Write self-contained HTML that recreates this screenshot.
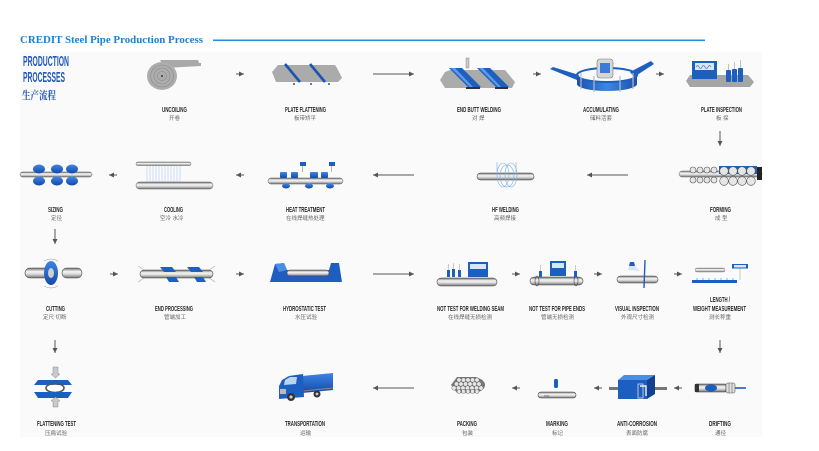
<!DOCTYPE html>
<html><head><meta charset="utf-8"><style>
html,body{margin:0;padding:0;background:#fff;}
svg{display:block;}
.l{font-family:"Liberation Sans",sans-serif;font-weight:bold;font-size:7.5px;fill:#2a2a2a;}
.c{font-family:"Liberation Sans","Noto Sans CJK SC",sans-serif;font-size:5.5px;fill:#666;}
</style></head><body>
<svg width="819" height="451" viewBox="0 0 819 451" xmlns="http://www.w3.org/2000/svg">
<defs>
<linearGradient id="pg" x1="0" y1="0" x2="0" y2="1">
<stop offset="0" stop-color="#6a6a6a"/><stop offset=".35" stop-color="#f4f4f4"/><stop offset=".6" stop-color="#dcdcdc"/><stop offset="1" stop-color="#707070"/>
</linearGradient>
<linearGradient id="bg" x1="0" y1="0" x2="0" y2="1">
<stop offset="0" stop-color="#3d86e6"/><stop offset="1" stop-color="#1548a8"/>
</linearGradient>
<linearGradient id="bh" x1="0" y1="0" x2="1" y2="0">
<stop offset="0" stop-color="#1a50b0"/><stop offset=".5" stop-color="#3b87e4"/><stop offset="1" stop-color="#1a50b0"/>
</linearGradient>
<marker id="ah" markerWidth="6" markerHeight="6" refX="5" refY="3" orient="auto" markerUnits="userSpaceOnUse">
<path d="M0,0.5 L5,3 L0,5.5 Z" fill="#555"/>
</marker>
</defs>

<!-- panel -->
<rect x="20" y="52" width="742" height="385" fill="#fafafa"/>

<!-- title -->
<text x="20" y="43" font-family="Liberation Serif,serif" font-weight="bold" font-size="10.5" fill="#1f7fd2" textLength="183" lengthAdjust="spacingAndGlyphs">CREDIT Steel Pipe Production Process</text>
<rect x="213" y="39.5" width="492" height="1.6" fill="#2a8ae0"/>

<text x="23" y="66" font-family="Liberation Sans,sans-serif" font-weight="bold" font-size="14.5" fill="#2158b8" textLength="46" lengthAdjust="spacingAndGlyphs">PRODUCTION</text>
<text x="23" y="82" font-family="Liberation Sans,sans-serif" font-weight="bold" font-size="14.5" fill="#2158b8" textLength="42" lengthAdjust="spacingAndGlyphs">PROCESSES</text>
<text x="22" y="99" font-family="Liberation Serif,'Noto Serif CJK SC',serif" font-weight="bold" font-size="11" fill="#2158b8" textLength="34" lengthAdjust="spacingAndGlyphs">生产流程</text>

<!-- ============ ROW 1 ============ -->
<!-- uncoiling -->
<polygon points="160,60 198,60 199,63 201,63 201,66 165,68" fill="#a8a8a8"/>
<ellipse cx="162" cy="76" rx="15" ry="14" fill="#adadad"/>
<ellipse cx="162" cy="76" rx="11.5" ry="11" fill="none" stroke="#8a8a8a" stroke-width=".6"/>
<ellipse cx="162" cy="76" rx="8" ry="8" fill="none" stroke="#8a8a8a" stroke-width=".6"/>
<ellipse cx="162" cy="76" rx="4.5" ry="4.5" fill="none" stroke="#8a8a8a" stroke-width=".6"/>
<circle cx="162" cy="76" r="1" fill="#333"/>

<!-- plate flattening -->
<polygon points="272,72 278,65 335,65 337,68 342,78 338,82 276,82" fill="#ababab"/>
<line x1="285" y1="64" x2="300" y2="82" stroke="#1a55b0" stroke-width="2.6"/>
<line x1="310" y1="64" x2="325" y2="82" stroke="#1a55b0" stroke-width="2.6"/>
<circle cx="294" cy="84" r="1" fill="#1a55b0"/><circle cx="311" cy="84" r="1" fill="#1a55b0"/><circle cx="329" cy="84" r="1" fill="#1a55b0"/>

<!-- end butt welding -->
<polygon points="440,80 445,72 450,70 505,70 515,82 512,88 445,88" fill="#ababab"/>
<rect x="466" y="87" width="14" height="2" fill="#333"/><rect x="495" y="87" width="13" height="2" fill="#333"/>
<polygon points="449,68 462,68 481,87 468,87" fill="#1e5fc0"/>
<polygon points="451,68 455,68 473,87 470,87" fill="#5a9ae8"/>
<polygon points="477,68 490,68 509,87 496,87" fill="#1e5fc0"/>
<polygon points="479,68 483,68 501,87 498,87" fill="#5a9ae8"/>
<rect x="466" y="58" width="3" height="10" fill="#c8c8c8" stroke="#777" stroke-width=".4"/>

<!-- accumulating -->
<polygon points="550,69 553,67 579,75 577,80" fill="#1e5fc0"/>
<polygon points="630,72 651,61 654,64 634,77" fill="#1e5fc0"/>
<path d="M577 75 A30 7 0 0 0 637 75 L637 84 A30 7 0 0 1 577 84 Z" fill="url(#bh)"/>
<ellipse cx="607" cy="75" rx="30" ry="7" fill="none" stroke="#1e5fc0" stroke-width="2"/>
<g stroke="#bbb" stroke-width="1.2"><line x1="581" y1="73" x2="581" y2="89"/><line x1="594" y1="76" x2="594" y2="92"/><line x1="620" y1="76" x2="620" y2="92"/><line x1="633" y1="73" x2="633" y2="89"/></g>
<rect x="597" y="59" width="16" height="19" rx="3" fill="#d6d6d6" stroke="#777" stroke-width=".6"/>
<rect x="600" y="63" width="10" height="10" fill="#3a7bd8"/>

<!-- plate inspection -->
<polygon points="686,81 690,75 748,75 754,82 750,87 690,87" fill="#a5a5a5"/>
<rect x="692" y="61" width="25" height="18" fill="#1c5fbf"/>
<rect x="695" y="63" width="19" height="7" fill="#d8e6f7"/>
<path d="M696 67 q1.5 -3 3 0 t3 0 t3 0 t3 0 t3 0" fill="none" stroke="#1c5fbf" stroke-width=".6"/>
<rect x="726" y="70" width="5" height="12" rx="1" fill="#1c5fbf"/><rect x="732" y="69" width="5" height="13" rx="1" fill="#1c5fbf"/><rect x="738" y="68" width="5" height="14" rx="1" fill="#1c5fbf"/>
<g stroke="#999" stroke-width=".6"><line x1="728.5" y1="64" x2="728.5" y2="70"/><line x1="734.5" y1="62" x2="734.5" y2="69"/><line x1="740.5" y1="60" x2="740.5" y2="68"/></g>

<!-- row1 arrows -->
<g stroke="#555" stroke-width="1" fill="none" marker-end="url(#ah)">
<line x1="236" y1="74" x2="244" y2="74"/>
<line x1="373" y1="74" x2="414" y2="74"/>
<line x1="533" y1="74" x2="541" y2="74"/>
<line x1="656" y1="74" x2="664" y2="74"/>
<line x1="720" y1="131" x2="720" y2="146"/>
</g>

<text class="l" x="162" y="112" textLength="25" lengthAdjust="spacingAndGlyphs">UNCOILING</text>
<text class="c" x="169" y="120">开卷</text>
<text class="l" x="285" y="112" textLength="41" lengthAdjust="spacingAndGlyphs">PLATE FLATTENING</text>
<text class="c" x="294" y="120">板带矫平</text>
<text class="l" x="457" y="112" textLength="44" lengthAdjust="spacingAndGlyphs">END BUTT WELDING</text>
<text class="c" x="472" y="120">对 焊</text>
<text class="l" x="583" y="112" textLength="36" lengthAdjust="spacingAndGlyphs">ACCUMULATING</text>
<text class="c" x="590" y="120">储料活套</text>
<text class="l" x="701" y="112" textLength="41" lengthAdjust="spacingAndGlyphs">PLATE INSPECTION</text>
<text class="c" x="716" y="120">板 探</text>

<!-- ============ ROW 2 ============ -->
<!-- sizing -->
<rect x="20" y="172" width="72" height="5" rx="2.5" fill="url(#pg)" stroke="#555" stroke-width=".5"/>
<g fill="url(#bg)">
<ellipse cx="39" cy="169" rx="6" ry="4.5"/><ellipse cx="39" cy="181" rx="6" ry="4.5"/>
<ellipse cx="57" cy="169" rx="6" ry="4.5"/><ellipse cx="57" cy="181" rx="6" ry="4.5"/>
<ellipse cx="72" cy="169" rx="6" ry="4.5"/><ellipse cx="72" cy="181" rx="6" ry="4.5"/>
</g>

<!-- cooling -->
<rect x="136" y="162" width="55" height="3.5" rx="1.7" fill="url(#pg)" stroke="#666" stroke-width=".5"/>
<g stroke="#a9c9ec" stroke-width=".6">
<line x1="147" y1="166" x2="147" y2="182"/><line x1="150" y1="166" x2="150" y2="182"/><line x1="153" y1="166" x2="153" y2="182"/><line x1="156" y1="166" x2="156" y2="182"/><line x1="159" y1="166" x2="159" y2="182"/><line x1="162" y1="166" x2="162" y2="182"/><line x1="165" y1="166" x2="165" y2="182"/><line x1="168" y1="166" x2="168" y2="182"/><line x1="171" y1="166" x2="171" y2="182"/><line x1="174" y1="166" x2="174" y2="182"/><line x1="177" y1="166" x2="177" y2="182"/><line x1="180" y1="166" x2="180" y2="182"/>
</g>
<rect x="136" y="182" width="77" height="7" rx="3.5" fill="url(#pg)" stroke="#555" stroke-width=".5"/>

<!-- heat treatment -->
<g stroke="#888" stroke-width=".6" fill="none"><path d="M302.5 166 V172"/><path d="M331.5 166 V172"/></g>
<rect x="300" y="162" width="6" height="4" fill="#1c5fbf"/><rect x="329" y="162" width="6" height="4" fill="#1c5fbf"/>
<rect x="268" y="178" width="75" height="6" rx="3" fill="url(#pg)" stroke="#555" stroke-width=".5"/>
<g fill="url(#bg)">
<rect x="280" y="172" width="7" height="6" rx="1"/><rect x="291" y="172" width="7" height="6" rx="1"/><rect x="310" y="172" width="8" height="6" rx="1"/><rect x="321" y="172" width="7" height="6" rx="1"/>
<ellipse cx="286" cy="186" rx="4" ry="2.5"/><ellipse cx="309" cy="186" rx="4" ry="2.5"/><ellipse cx="330" cy="186" rx="4" ry="2.5"/>
</g>

<!-- hf welding -->
<rect x="477" y="173" width="57" height="7" rx="3.5" fill="url(#pg)" stroke="#444" stroke-width=".6"/>
<g fill="none" stroke="#7aaee6" stroke-width=".6">
<ellipse cx="503" cy="175" rx="6" ry="12"/><ellipse cx="507" cy="176" rx="7" ry="11"/><ellipse cx="511" cy="175" rx="6" ry="12"/>
<line x1="497" y1="162" x2="497" y2="172"/><line x1="516" y1="162" x2="516" y2="172"/>
</g>

<!-- forming -->
<rect x="679" y="171" width="83" height="6" rx="3" fill="url(#pg)" stroke="#666" stroke-width=".5"/>
<rect x="757" y="167" width="5" height="13" fill="#222"/>
<path d="M719 166 h38 v8 h-38 Z" fill="#1d5fc0"/>
<g fill="#e6e6e6" stroke="#555" stroke-width=".6">
<circle cx="693" cy="170" r="3"/><circle cx="700" cy="170" r="3"/><circle cx="707" cy="170" r="3"/><circle cx="714" cy="170" r="3"/>
<circle cx="693" cy="180" r="3"/><circle cx="700" cy="180" r="3"/><circle cx="707" cy="180" r="3"/><circle cx="714" cy="180" r="3"/>
<circle cx="724" cy="171" r="4.3"/><circle cx="733" cy="171" r="4.3"/><circle cx="742" cy="171" r="4.3"/><circle cx="751" cy="171" r="4.3"/>
<circle cx="724" cy="181" r="4.3"/><circle cx="733" cy="181" r="4.3"/><circle cx="742" cy="181" r="4.3"/><circle cx="751" cy="181" r="4.3"/>
</g>

<!-- row2 arrows -->
<g stroke="#555" stroke-width="1" fill="none" marker-end="url(#ah)">
<line x1="117" y1="175" x2="109" y2="175"/>
<line x1="244" y1="175" x2="236" y2="175"/>
<line x1="414" y1="175" x2="373" y2="175"/>
<line x1="628" y1="175" x2="587" y2="175"/>
<line x1="55" y1="229" x2="55" y2="244"/>
</g>

<text class="l" x="48" y="212" textLength="15" lengthAdjust="spacingAndGlyphs">SIZING</text>
<text class="c" x="51" y="220">定径</text>
<text class="l" x="164" y="212" textLength="19" lengthAdjust="spacingAndGlyphs">COOLING</text>
<text class="c" x="160" y="220">空冷 水冷</text>
<text class="l" x="286" y="212" textLength="39" lengthAdjust="spacingAndGlyphs">HEAT TREATMENT</text>
<text class="c" x="286" y="220">在线焊缝热处理</text>
<text class="l" x="492" y="212" textLength="27" lengthAdjust="spacingAndGlyphs">HF WELDING</text>
<text class="c" x="494" y="220">高频焊接</text>
<text class="l" x="710" y="212" textLength="21" lengthAdjust="spacingAndGlyphs">FORMING</text>
<text class="c" x="715" y="220">成 型</text>

<!-- ============ ROW 3 ============ -->
<!-- cutting -->
<rect x="25" y="268" width="30" height="10" rx="5" fill="url(#pg)" stroke="#444" stroke-width=".6"/>
<ellipse cx="51" cy="273" rx="7" ry="12" fill="url(#bg)"/>
<ellipse cx="51" cy="273" rx="3" ry="5" fill="#cfcfcf"/>
<rect x="62" y="268" width="20" height="10" rx="5" fill="url(#pg)" stroke="#444" stroke-width=".6"/>
<path d="M44 261 q7 -4 14 0 M44 286 q7 4 14 0" fill="none" stroke="#999" stroke-width=".5"/>

<!-- end processing -->
<g fill="none" stroke="#aaa" stroke-width=".6"><path d="M138 266 l6 4 M138 282 l6 -4 M215 266 l-6 4 M215 282 l-6 -4"/></g>
<rect x="140" y="270" width="73" height="8" rx="4" fill="url(#pg)" stroke="#444" stroke-width=".6"/>
<polygon points="160,267 172,267 176,272 164,272" fill="#1e5fc0"/>
<polygon points="187,267 199,267 203,272 191,272" fill="#1e5fc0"/>
<polygon points="166,277 176,277 179,282 169,282" fill="#1e5fc0"/>
<polygon points="194,277 203,277 206,282 197,282" fill="#1e5fc0"/>

<!-- hydrostatic -->
<path d="M270 282 L275 264 L284 263 L287 270 L329 270 L331 263 L339 263 L342 282 Z" fill="#1f5ec0"/>
<path d="M275 264 L284 263 L287 270 L279 272 Z" fill="#4a8fe6"/>
<rect x="287" y="270" width="42" height="6" rx="3" fill="url(#pg)" stroke="#444" stroke-width=".5"/>

<!-- NDT welding seam -->
<rect x="437" y="278" width="60" height="8" rx="4" fill="url(#pg)" stroke="#444" stroke-width=".6"/>
<rect x="468" y="262" width="20" height="15" fill="#1c5fbf"/>
<rect x="470" y="264" width="16" height="5" fill="#d8e6f7"/>
<rect x="447" y="270" width="3" height="7" fill="#1c5fbf"/><rect x="452" y="269" width="3" height="8" fill="#1c5fbf"/><rect x="458" y="270" width="3" height="7" fill="#1c5fbf"/>
<g stroke="#999" stroke-width=".5"><line x1="448.5" y1="264" x2="448.5" y2="270"/><line x1="453.5" y1="263" x2="453.5" y2="269"/><line x1="459.5" y1="264" x2="459.5" y2="270"/></g>

<!-- NDT pipe ends -->
<rect x="530" y="277" width="53" height="8" rx="4" fill="url(#pg)" stroke="#444" stroke-width=".6"/>
<ellipse cx="537" cy="281" rx="2" ry="5" fill="none" stroke="#444" stroke-width=".6"/>
<ellipse cx="576" cy="281" rx="2" ry="5" fill="none" stroke="#444" stroke-width=".6"/>
<rect x="550" y="261" width="16" height="15" fill="#1c5fbf"/>
<rect x="552" y="263" width="12" height="5" fill="#d8e6f7"/>
<rect x="539" y="271" width="3" height="6" fill="#1c5fbf"/><rect x="574" y="271" width="3" height="6" fill="#1c5fbf"/>
<g stroke="#999" stroke-width=".5"><line x1="540.5" y1="265" x2="540.5" y2="271"/><line x1="575.5" y1="265" x2="575.5" y2="271"/></g>

<!-- visual inspection -->
<rect x="617" y="276" width="41" height="7" rx="3.5" fill="url(#pg)" stroke="#444" stroke-width=".6"/>
<line x1="645" y1="260" x2="644" y2="288" stroke="#1c5fbf" stroke-width="1.4"/>
<polygon points="630,262 634,262 635,266 629,266" fill="#1c5fbf"/>
<polygon points="629,266 635,266 640,271 628,270" fill="#d6e4f5"/>

<!-- length/weight -->
<rect x="695" y="268" width="30" height="4" rx="2" fill="url(#pg)" stroke="#777" stroke-width=".4"/>
<rect x="692" y="280" width="45" height="3" fill="#1c5fbf"/>
<g stroke="#1c5fbf" stroke-width=".5"><line x1="697" y1="278" x2="697" y2="280"/><line x1="703" y1="278" x2="703" y2="280"/><line x1="709" y1="278" x2="709" y2="280"/><line x1="715" y1="278" x2="715" y2="280"/><line x1="721" y1="278" x2="721" y2="280"/><line x1="727" y1="278" x2="727" y2="280"/><line x1="733" y1="278" x2="733" y2="280"/></g>
<line x1="740" y1="268" x2="740" y2="280" stroke="#999" stroke-width=".5"/>
<rect x="732" y="264" width="16" height="4.5" fill="#1c5fbf"/>
<rect x="734" y="265" width="12" height="2.5" fill="#d8e6f7"/>

<!-- row3 arrows -->
<g stroke="#555" stroke-width="1" fill="none" marker-end="url(#ah)">
<line x1="110" y1="274" x2="118" y2="274"/>
<line x1="236" y1="274" x2="244" y2="274"/>
<line x1="373" y1="274" x2="414" y2="274"/>
<line x1="512" y1="274" x2="520" y2="274"/>
<line x1="594" y1="274" x2="602" y2="274"/>
<line x1="674" y1="274" x2="682" y2="274"/>
<line x1="55" y1="340" x2="55" y2="353"/>
<line x1="720" y1="340" x2="720" y2="353"/>
</g>

<text class="l" x="46" y="311" textLength="19" lengthAdjust="spacingAndGlyphs">CUTTING</text>
<text class="c" x="43" y="319">定尺 切断</text>
<text class="l" x="155" y="311" textLength="38" lengthAdjust="spacingAndGlyphs">END PROCESSING</text>
<text class="c" x="164" y="319">管端加工</text>
<text class="l" x="283" y="311" textLength="43" lengthAdjust="spacingAndGlyphs">HYDROSTATIC TEST</text>
<text class="c" x="295" y="319">水压试验</text>
<text class="l" x="437" y="311" textLength="67" lengthAdjust="spacingAndGlyphs">NOT TEST FOR WELDING SEAM</text>
<text class="c" x="448" y="319">在线焊缝无损检测</text>
<text class="l" x="529" y="311" textLength="56" lengthAdjust="spacingAndGlyphs">NOT TEST FOR PIPE ENDS</text>
<text class="c" x="541" y="319">管端无损检测</text>
<text class="l" x="615" y="311" textLength="44" lengthAdjust="spacingAndGlyphs">VISUAL INSPECTION</text>
<text class="c" x="621" y="319">外观尺寸检测</text>
<text class="l" x="710" y="302" textLength="20" lengthAdjust="spacingAndGlyphs">LENGTH /</text>
<text class="l" x="693" y="311" textLength="53" lengthAdjust="spacingAndGlyphs">WEIGHT MEASUREMENT</text>
<text class="c" x="709" y="319">测长称重</text>

<!-- ============ ROW 4 ============ -->
<!-- flattening test -->
<path d="M53 367 h5 v7 h2 l-4.5 4 l-4.5 -4 h2 Z" fill="#c9c9c9" stroke="#888" stroke-width=".5"/>
<polygon points="38,380 68,380 72,385 34,385" fill="#1c5fbf"/>
<ellipse cx="55" cy="388" rx="9" ry="4.5" fill="none" stroke="#555" stroke-width="1.6"/>
<ellipse cx="55" cy="388" rx="7.5" ry="3.2" fill="#fff"/>
<polygon points="34,392 72,392 68,398 38,398" fill="#1c5fbf"/>
<path d="M53 407 h5 v-6 h2 l-4.5 -4 l-4.5 4 h2 Z" fill="#c9c9c9" stroke="#888" stroke-width=".5"/>

<!-- transportation -->
<polygon points="302,376 333,373 333,390 302,393" fill="url(#bg)"/>
<line x1="303" y1="391" x2="333" y2="388" stroke="#888" stroke-width="1"/>
<polygon points="279,386 282,380 289,376 303,374 304,397 279,399" fill="#1d5fc0"/>
<polygon points="285,380 290,377 297,377 296,384 284,385" fill="#bcd4f0"/>
<rect x="280" y="389" width="6" height="5" fill="#bbb"/>
<circle cx="291" cy="397" r="4" fill="#333"/><circle cx="291" cy="397" r="1.6" fill="#ccc"/>
<circle cx="317" cy="394" r="3.5" fill="#333"/><circle cx="317" cy="394" r="1.4" fill="#ccc"/>

<!-- packing -->
<path d="M451 385 L457 377 L476 377 Q485 380 485 385 Q485 390 476 393 L457 393 Z" fill="#777"/>
<g fill="#e6e6e6" stroke="#555" stroke-width=".4">
<circle cx="459" cy="380" r="2.2"/><circle cx="463.5" cy="380" r="2.2"/><circle cx="468" cy="380" r="2.2"/><circle cx="472.5" cy="380" r="2.2"/><circle cx="477" cy="380" r="2.2"/>
<circle cx="456.5" cy="384" r="2.2"/><circle cx="461" cy="384" r="2.2"/><circle cx="465.5" cy="384" r="2.2"/><circle cx="470" cy="384" r="2.2"/><circle cx="474.5" cy="384" r="2.2"/><circle cx="479" cy="384" r="2.2"/>
<circle cx="454" cy="388" r="2.2"/><circle cx="458.5" cy="388" r="2.2"/><circle cx="463" cy="388" r="2.2"/><circle cx="467.5" cy="388" r="2.2"/><circle cx="472" cy="388" r="2.2"/><circle cx="476.5" cy="388" r="2.2"/><circle cx="481" cy="388" r="2.2"/>
<circle cx="459" cy="391.5" r="2"/><circle cx="463.5" cy="391.5" r="2"/><circle cx="468" cy="391.5" r="2"/><circle cx="472.5" cy="391.5" r="2"/><circle cx="477" cy="391.5" r="2"/>
</g>

<!-- marking -->
<rect x="538" y="392" width="38" height="6" rx="3" fill="url(#pg)" stroke="#444" stroke-width=".6"/>
<rect x="554" y="379" width="4" height="9" rx="1.5" fill="#1c5fbf"/>
<text x="544" y="397" font-family="Liberation Sans,sans-serif" font-size="2.5" fill="#555">TMS</text>

<!-- anti-corrosion -->
<rect x="609" y="387" width="58" height="3" fill="#777"/>
<polygon points="618,380 624,375 655,375 647,380" fill="#4a8fe6"/>
<polygon points="647,380 655,375 655,394 647,399" fill="#12428f"/>
<rect x="618" y="380" width="29" height="19" fill="#1d5fc0"/>
<rect x="638" y="384" width="5" height="14" fill="none" stroke="#ddd" stroke-width=".8"/>
<path d="M640 386 h6 v10" fill="none" stroke="#eee" stroke-width="1.4"/>

<!-- drifting -->
<rect x="695" y="384" width="31" height="8" rx="1.5" fill="url(#pg)" stroke="#333" stroke-width=".6"/>
<rect x="695" y="384" width="4" height="8" fill="#333"/>
<ellipse cx="711" cy="388" rx="6" ry="3.5" fill="#1d5fc0"/>
<rect x="726" y="383" width="9" height="10" rx="2" fill="#e0e0e0" stroke="#555" stroke-width=".6"/>
<line x1="729" y1="383" x2="729" y2="393" stroke="#555" stroke-width=".5"/><line x1="732" y1="383" x2="732" y2="393" stroke="#555" stroke-width=".5"/>
<line x1="735" y1="388" x2="746" y2="388" stroke="#1d5fc0" stroke-width="1.6"/>

<!-- row4 arrows -->
<g stroke="#555" stroke-width="1" fill="none" marker-end="url(#ah)">
<line x1="414" y1="388" x2="373" y2="388"/>
<line x1="520" y1="388" x2="512" y2="388"/>
<line x1="602" y1="388" x2="594" y2="388"/>
<line x1="682" y1="388" x2="674" y2="388"/>
</g>

<text class="l" x="37" y="426" textLength="39" lengthAdjust="spacingAndGlyphs">FLATTENING TEST</text>
<text class="c" x="45" y="435">压扁试验</text>
<text class="l" x="285" y="426" textLength="40" lengthAdjust="spacingAndGlyphs">TRANSPORTATION</text>
<text class="c" x="300" y="435">运输</text>
<text class="l" x="457" y="426" textLength="20" lengthAdjust="spacingAndGlyphs">PACKING</text>
<text class="c" x="462" y="435">包装</text>
<text class="l" x="546" y="426" textLength="22" lengthAdjust="spacingAndGlyphs">MARKING</text>
<text class="c" x="552" y="435">标记</text>
<text class="l" x="617" y="426" textLength="40" lengthAdjust="spacingAndGlyphs">ANTI-CORROSION</text>
<text class="c" x="626" y="435">表面防腐</text>
<text class="l" x="709" y="426" textLength="22" lengthAdjust="spacingAndGlyphs">DRIFTING</text>
<text class="c" x="715" y="435">通径</text>
</svg>
</body></html>
